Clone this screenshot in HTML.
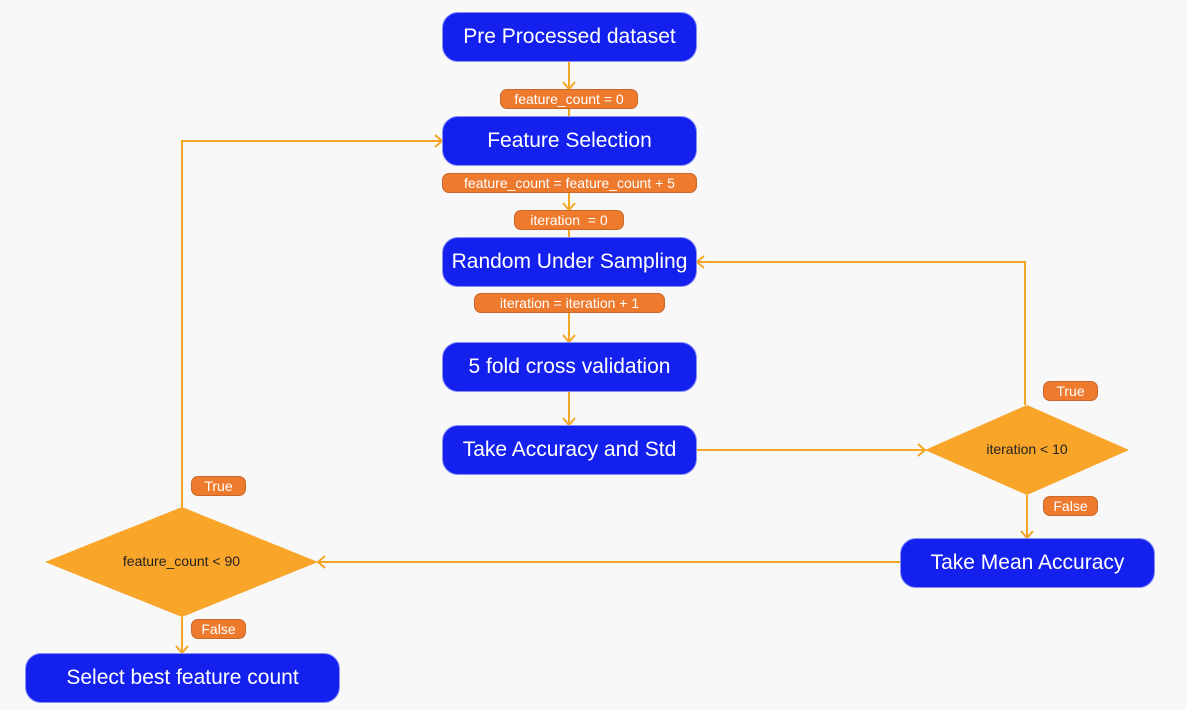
<!DOCTYPE html>
<html><head><style>
body{margin:0;width:1187px;height:710px;background:#f8f8f8;position:relative;overflow:hidden;font-family:"Liberation Sans",sans-serif}
.b{position:absolute;background:#1420ee;color:#fff;border-radius:16px;display:flex;align-items:center;justify-content:center;font-size:21px;border:1px solid #8890f8;box-sizing:border-box}
.l{position:absolute;background:#ee7a2e;color:#fff;border-radius:7px;display:flex;align-items:center;justify-content:center;font-size:14px;border:1px solid #c9682a;box-sizing:border-box}
svg{position:absolute;left:0;top:0}
</style></head><body>
<svg width="1187" height="710" fill="none" stroke="#f5a623" stroke-width="2">
<polygon points="1027,405 1129,450 1027,495 925,450" fill="#f9a52a" stroke="none"/>
<polygon points="182,507 318,562 182,617 45,562" fill="#f9a52a" stroke="none"/>
<path d="M569,62V89M569,109V116M569,192V210M569,230V237M569,313V342M569,392V425M697,450H925M1027,495V538M900,562H318M182,617V653M182,507V141H442M1025,405V262H697"/>
<path d="M563,82l6,7l6,-7M563,203l6,7l6,-7M563,335l6,7l6,-7M563,418l6,7l6,-7M918,444l7,6l-7,6M1021,531l6,7l6,-7M325,556l-7,6l7,6M176,646l6,7l6,-7M435,135l7,6l-7,6M704,256l-7,6l7,6"/>
</svg>
<div class="b" style="left:442px;top:12px;width:255px;height:50px">Pre Processed dataset</div>
<div class="b" style="left:442px;top:116px;width:255px;height:50px">Feature Selection</div>
<div class="b" style="left:442px;top:237px;width:255px;height:50px">Random Under Sampling</div>
<div class="b" style="left:442px;top:342px;width:255px;height:50px">5 fold cross validation</div>
<div class="b" style="left:442px;top:425px;width:255px;height:50px">Take Accuracy and Std</div>
<div class="b" style="left:900px;top:538px;width:255px;height:50px">Take Mean Accuracy</div>
<div class="b" style="left:25px;top:653px;width:315px;height:50px">Select best feature count</div>
<div class="l" style="left:500px;top:89px;width:138px;height:20px">feature_count = 0</div>
<div class="l" style="left:442px;top:173px;width:255px;height:20px">feature_count = feature_count + 5</div>
<div class="l" style="left:514px;top:210px;width:110px;height:20px">iteration &nbsp;= 0</div>
<div class="l" style="left:474px;top:293px;width:191px;height:20px">iteration = iteration + 1</div>
<div class="l" style="left:1043px;top:381px;width:55px;height:20px">True</div>
<div class="l" style="left:1043px;top:496px;width:55px;height:20px">False</div>
<div class="l" style="left:191px;top:476px;width:55px;height:20px">True</div>
<div class="l" style="left:191px;top:619px;width:55px;height:20px">False</div>
<div style="position:absolute;left:925px;top:441px;width:204px;text-align:center;font-size:14px;color:#222">iteration &lt; 10</div>
<div style="position:absolute;left:45px;top:553px;width:273px;text-align:center;font-size:14px;color:#222">feature_count &lt; 90</div>
</body></html>
